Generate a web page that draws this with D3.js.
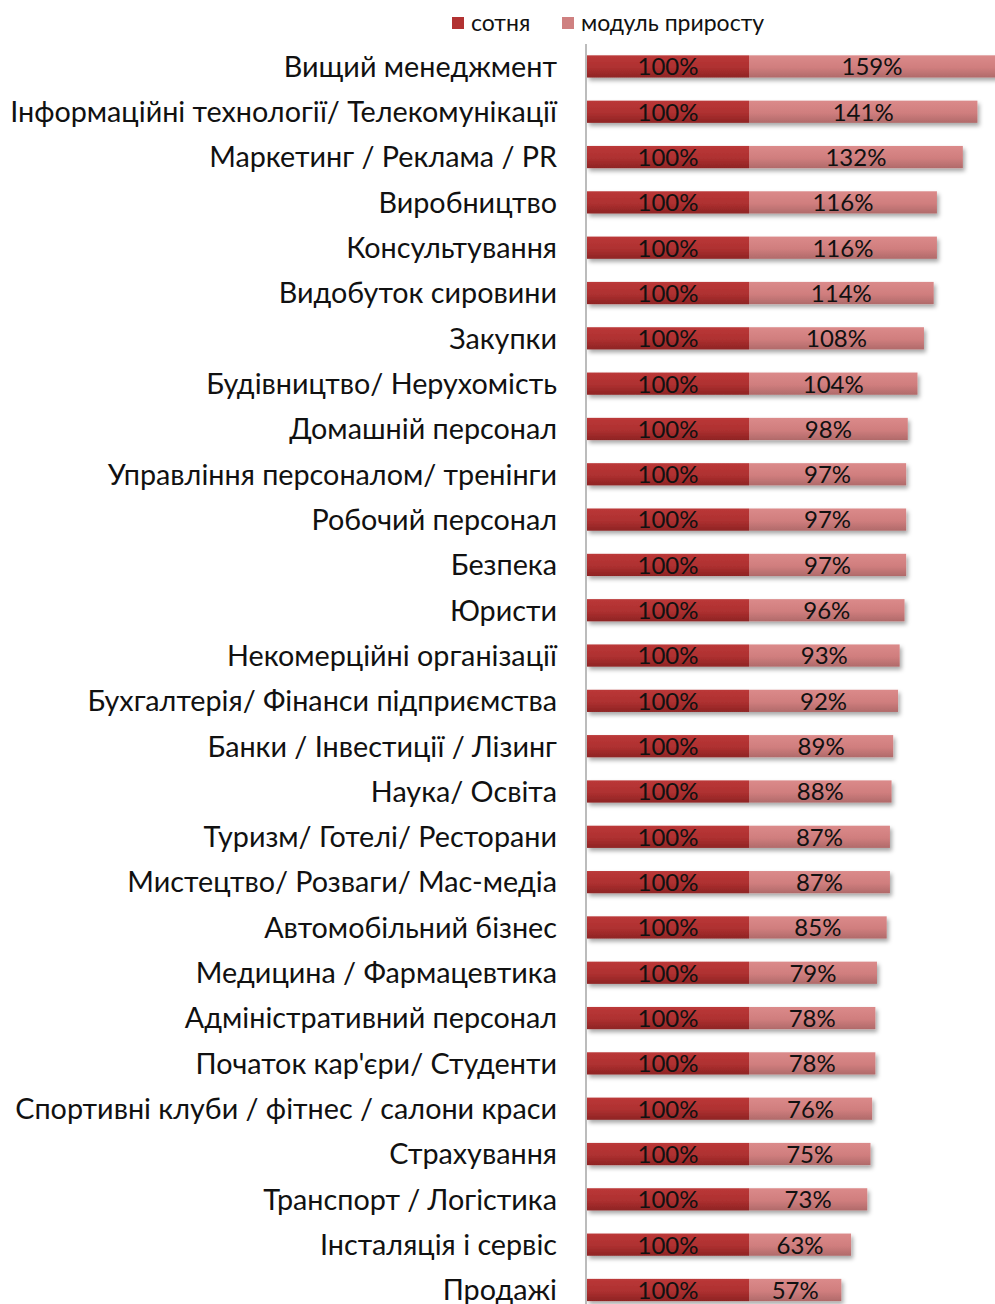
<!DOCTYPE html>
<html>
<head>
<meta charset="utf-8">
<script src="https://cdn.jsdelivr.net/npm/d3@7"></script>
<style>
  body { margin: 0; background: #fff; }
  svg { display: block; font-family: Lato, "Open Sans", sans-serif; }
</style>
</head>
<body>
<div id="chart"></div>
<script>
var categories = [
    "Вищий менеджмент",
    "Інформаційні технології/ Телекомунікації",
    "Маркетинг / Реклама / PR",
    "Виробництво",
    "Консультування",
    "Видобуток сировини",
    "Закупки",
    "Будівництво/ Нерухомість",
    "Домашній персонал",
    "Управління персоналом/ тренінги",
    "Робочий персонал",
    "Безпека",
    "Юристи",
    "Некомерційні організації",
    "Бухгалтерія/ Фінанси підприємства",
    "Банки / Інвестиції / Лізинг",
    "Наука/ Освіта",
    "Туризм/ Готелі/ Ресторани",
    "Мистецтво/ Розваги/ Мас-медіа",
    "Автомобільний бізнес",
    "Медицина / Фармацевтика",
    "Адміністративний персонал",
    "Початок кар'єри/ Студенти",
    "Спортивні клуби / фітнес / салони краси",
    "Страхування",
    "Транспорт / Логістика",
    "Інсталяція і сервіс",
    "Продажі"
];
var hundred = [100, 100, 100, 100, 100, 100, 100, 100, 100, 100, 100, 100, 100, 100,
               100, 100, 100, 100, 100, 100, 100, 100, 100, 100, 100, 100, 100, 100];
var growth = [159, 141, 132, 116, 116, 114, 108, 104, 98, 97, 97, 97, 96, 93,
              92, 89, 88, 87, 87, 85, 79, 78, 78, 76, 75, 73, 63, 57];
var seriesNames = ["сотня", "модуль приросту"];

var width = 995, height = 1304;

var svg = d3.select('#chart').append('svg').attr('width', width).attr('height', height);
var defs = svg.append('defs');

var g1 = defs.append('linearGradient').attr('id', 'gDark').attr('x1', 0).attr('y1', 0).attr('x2', 0).attr('y2', 1);
g1.append('stop').attr('offset', '0%').attr('stop-color', '#bb3838');
g1.append('stop').attr('offset', '55%').attr('stop-color', '#ae3030');
g1.append('stop').attr('offset', '100%').attr('stop-color', '#8e2424');
var g2 = defs.append('linearGradient').attr('id', 'gLight').attr('x1', 0).attr('y1', 0).attr('x2', 0).attr('y2', 1);
g2.append('stop').attr('offset', '0%').attr('stop-color', '#db8a8a');
g2.append('stop').attr('offset', '55%').attr('stop-color', '#d07e7e');
g2.append('stop').attr('offset', '100%').attr('stop-color', '#b06a6a');

var shadow = defs.append('filter').attr('id', 'shadow').attr('x', '-5%').attr('y', '-20%').attr('width', '110%').attr('height', '180%');
shadow.append('feDropShadow').attr('dx', 2).attr('dy', 3).attr('stdDeviation', 2)
    .attr('flood-color', '#000').attr('flood-opacity', 0.35);

var y = d3.scaleBand().domain(categories).range([44, 44 + categories.length * 45.3]).paddingInner(0.51).paddingOuter(0.25);
var x = d3.scaleLinear().domain([0, 100]).range([587, 749]);

var rows = categories.map(function(c, i) {
    return { cat: c, a: hundred[i], b: growth[i] };
});

// category labels
var labels = svg.append('g').selectAll('text')
    .data(rows)
    .enter()
    .append('text')
    .attr('x', 557)
    .attr('y', function(d) { return y(d.cat) + y.bandwidth() / 2; })
    .attr('dy', '0.36em')
    .attr('text-anchor', 'end')
    .attr('fill', '#111')
    .style('font-size', '24px')
    .text(function(d) { return d.cat; });

// fit longest label to the reference width
var maxW = d3.max(labels.nodes(), function(n) { return n.getComputedTextLength(); });
labels.style('font-size', (24 * 547 / maxW) + 'px');

var bars = svg.append('g');
var rowG = bars.selectAll('g')
    .data(rows)
    .enter()
    .append('g')
    .attr('filter', 'url(#shadow)');

rowG.append('rect')
    .attr('x', x(0))
    .attr('y', function(d) { return y(d.cat); })
    .attr('width', function(d) { return x(d.a) - x(0); })
    .attr('height', y.bandwidth())
    .attr('fill', 'url(#gDark)');

rowG.append('rect')
    .attr('x', function(d) { return x(d.a); })
    .attr('y', function(d) { return y(d.cat); })
    .attr('width', function(d) { return x(d.a + d.b) - x(d.a); })
    .attr('height', y.bandwidth())
    .attr('fill', 'url(#gLight)');

var vals = svg.append('g').style('font-size', '24px').attr('fill', '#111').attr('text-anchor', 'middle');
vals.selectAll('text.a')
    .data(rows)
    .enter()
    .append('text')
    .attr('class', 'a')
    .attr('x', function(d) { return (x(0) + x(d.a)) / 2; })
    .attr('y', function(d) { return y(d.cat) + y.bandwidth() / 2; })
    .attr('dy', '0.37em')
    .text(function(d) { return d.a + '%'; });
vals.selectAll('text.b')
    .data(rows)
    .enter()
    .append('text')
    .attr('class', 'b')
    .attr('x', function(d) { return Math.min((x(d.a) + x(d.a + d.b)) / 2, (x(d.a) + width) / 2); })
    .attr('y', function(d) { return y(d.cat) + y.bandwidth() / 2; })
    .attr('dy', '0.37em')
    .text(function(d) { return d.b + '%'; });

// vertical axis line
svg.append('line')
    .attr('x1', 586).attr('x2', 586)
    .attr('y1', 44).attr('y2', height)
    .attr('stroke', '#a6a6a6').attr('stroke-width', 1.5);

// legend
var legend = svg.append('g');
var legendX = [452, 562];
var legendFill = ['#b23232', '#cf8080'];
seriesNames.forEach(function(name, i) {
    legend.append('rect')
        .attr('x', legendX[i]).attr('y', 17)
        .attr('width', 12).attr('height', 12)
        .attr('fill', legendFill[i]);
    legend.append('text')
        .attr('x', legendX[i] + 19).attr('y', 31)
        .attr('fill', '#111')
        .style('font-size', '23px')
        .text(name);
});
</script>
</body>
</html>
